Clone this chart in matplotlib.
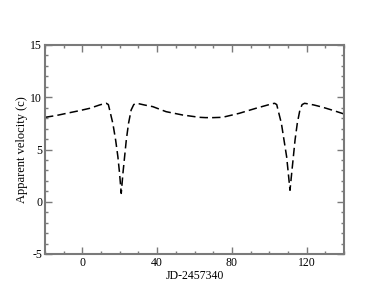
import matplotlib
matplotlib.use("Agg")
import matplotlib.pyplot as plt
from matplotlib.ticker import MultipleLocator

plt.rcParams['font.family'] = ['Liberation Serif', 'DejaVu Serif']
plt.rcParams['axes.unicode_minus'] = False

jd = [-20, -14, -8.5, -2, 3.9, 9.2, 11.5, 12.8, 13.9, 14.6, 16.3, 17.8, 19.0, 19.9, 20.8,
      21.7, 22.6, 23.5, 24.7, 26.1, 27.5, 28.8, 30.2, 33.2, 37.7, 44.8, 53.7, 62.6, 66.0,
      70.0, 75.0, 83.9, 92.8, 98.0, 101.6, 102.9, 104.0, 104.7, 106.5, 107.9, 109.3, 110.2,
      111.1, 112.0, 112.9, 113.8, 115.0, 116.4, 117.6, 118.9, 120.3, 123.9, 128.3, 134.0,
      140.0]
velocity = [8.08, 8.25, 8.46, 8.7, 8.94, 9.26, 9.38, 9.42, 9.3, 8.78, 7.5, 5.9, 4.31, 2.72, 0.8,
            2.72, 4.31, 5.9, 7.5, 8.78, 9.3, 9.42, 9.38, 9.26, 9.1, 8.62, 8.30, 8.08, 8.05,
            8.05, 8.08, 8.46, 8.94, 9.2, 9.38, 9.42, 9.3, 8.78, 7.5, 5.9, 4.31, 2.72,
            1.1, 2.72, 4.31, 5.9, 7.5, 8.78, 9.3, 9.42, 9.38, 9.26, 9.06, 8.75,
            8.4]

fig = plt.figure(figsize=(3.88, 3.0), dpi=100)
ax = fig.add_axes([45/388, 1-254/300, 299/388, 209/300])
ax.plot(jd, velocity, color='black', lw=1.1, ls=(0, (5.5, 2.7)))
ax.set_xlim(-20, 140)
ax.set_ylim(-5, 15)
ax.xaxis.set_major_locator(MultipleLocator(40))
ax.xaxis.set_minor_locator(MultipleLocator(10))
ax.yaxis.set_major_locator(MultipleLocator(5))
ax.yaxis.set_minor_locator(MultipleLocator(1))
spc = '#7a7a7a'
for s in ax.spines.values():
    s.set_color(spc)
    s.set_linewidth(1.5)
ax.tick_params(which='both', direction='in', top=True, right=True, color=spc, labelsize=8.5, pad=2)
ax.tick_params(which='major', length=5, width=1.0)
ax.tick_params(which='minor', length=2.5, width=1.0)
ax.set_xlabel('JD-2457340', fontsize=8.5, labelpad=1)
ax.set_ylabel('Apparent velocity (c)', fontsize=9, labelpad=2)
fig.savefig('out.png', dpi=100)
